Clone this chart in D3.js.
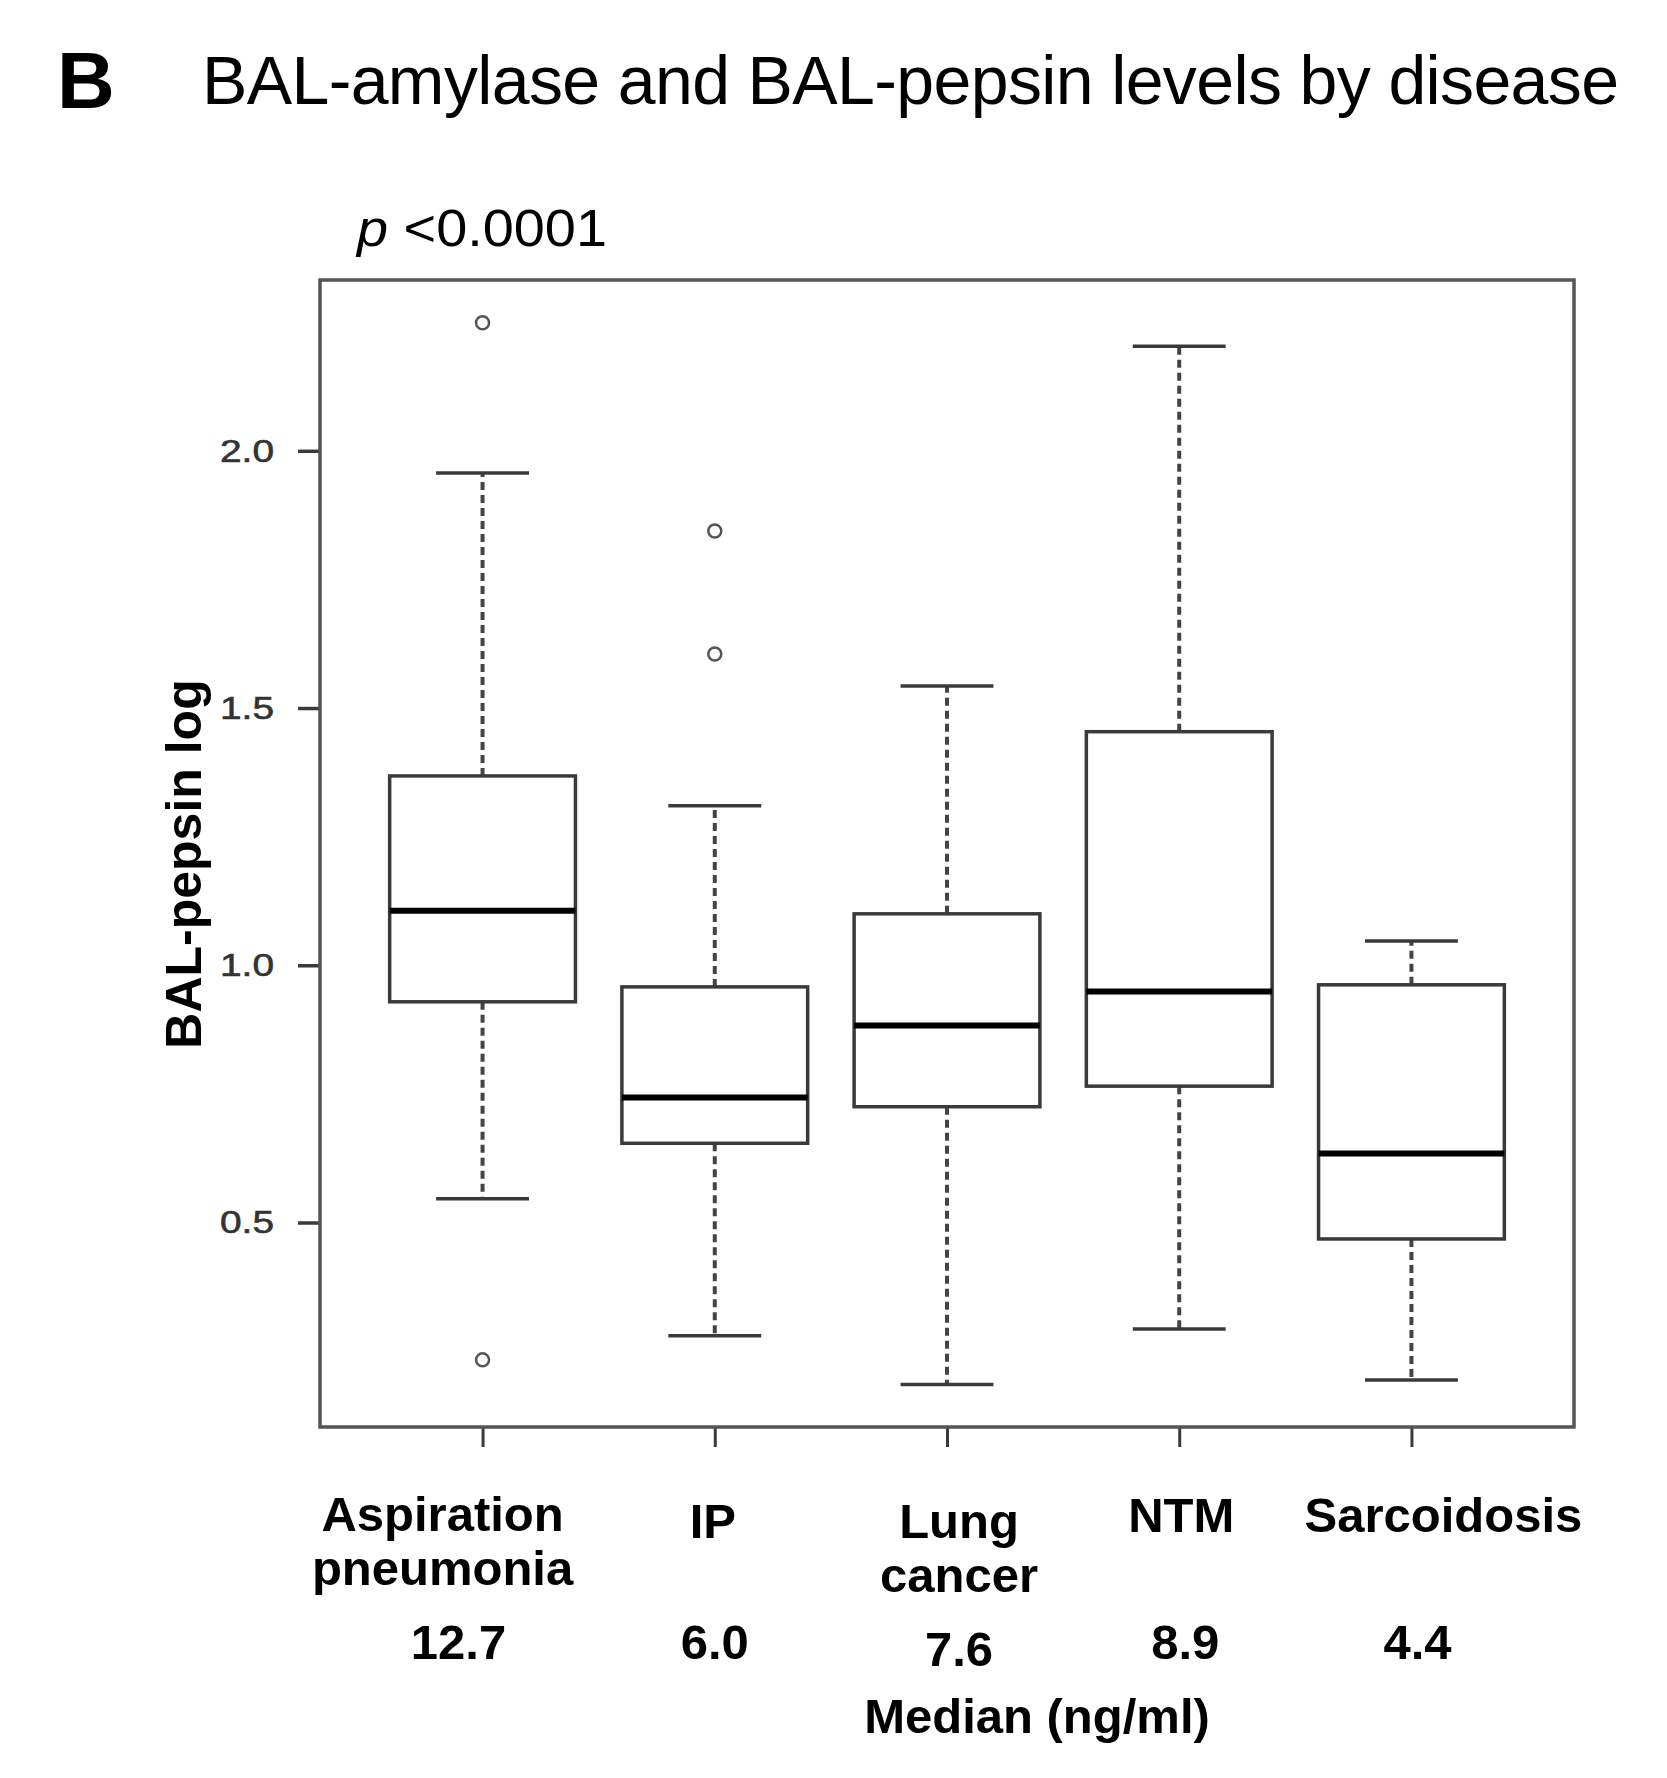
<!DOCTYPE html>
<html><head><meta charset="utf-8">
<script src="https://cdn.jsdelivr.net/npm/d3@7"></script>
<style>body{margin:0;background:#fff;} svg{display:block;font-family:"Liberation Sans",Arial,sans-serif;}</style>
</head><body>
<script>
// ---- data ----
const categories = ["Aspiration pneumonia", "IP", "Lung cancer", "NTM", "Sarcoidosis"];
const labelLines = [["Aspiration","pneumonia"],["IP"],["Lung","cancer"],["NTM"],["Sarcoidosis"]];
const medianLabels = ["12.7", "6.0", "7.6", "8.9", "4.4"];
const whiskerLow  = [0.546, 0.280, 0.185, 0.293, 0.194];
const q1          = [0.929, 0.654, 0.725, 0.765, 0.468];
const median      = [1.106, 0.743, 0.883, 0.949, 0.634];
const q3          = [1.368, 0.958, 1.100, 1.454, 0.962];
const whiskerHigh = [1.957, 1.310, 1.543, 2.203, 1.047];
const outliers    = [[2.249, 0.233], [1.844, 1.605], [], [], []];
const yTicks = [0.5, 1.0, 1.5, 2.0];

// ---- layout (not data) ----
const W = 1667, H = 1778;
const plot = {left: 320, right: 1574, top: 280, bottom: 1427};
const labelDx = [-40, -2, 12, 2, 32];
const medianDx = [-24, 0, 12, 6, 6];

const svg = d3.select("body").append("svg").attr("width", W).attr("height", H);

const x = d3.scaleLinear().domain([0.3, 5.7]).range([plot.left, plot.right]);
const y = d3.scaleLinear().domain([0.1025, 2.332]).range([plot.bottom, plot.top]);

const lineCol = "#3a3a3a";

// title
svg.append("text").attr("x", 57).attr("y", 108).attr("font-size", 80).attr("font-weight", "bold").text("B");
svg.append("text").attr("x", 202).attr("y", 104).attr("font-size", 68)
  .attr("textLength", 1417).attr("lengthAdjust", "spacing")
  .text("BAL-amylase  and  BAL-pepsin  levels  by  disease");

// p-value
const pt = svg.append("text").attr("x", 357).attr("y", 246).attr("font-size", 52)
  .attr("textLength", 250).attr("lengthAdjust", "spacingAndGlyphs");
pt.append("tspan").attr("font-style", "italic").text("p");
pt.append("tspan").text(" <0.0001");

// y axis
const yAxis = d3.axisLeft(y).tickValues(yTicks).tickFormat(d3.format(".1f")).tickSize(22).tickPadding(24);
const ga = svg.append("g").attr("transform", `translate(${plot.left},0)`).call(yAxis);
ga.select(".domain").remove();
ga.selectAll(".tick line").attr("stroke", lineCol).attr("stroke-width", 3.5);
ga.selectAll(".tick text").attr("font-size", 32).attr("fill", "#333")
  .attr("stroke", "#333").attr("stroke-width", 0.6)
  .attr("font-family", "Liberation Sans, Arial, sans-serif")
  .attr("textLength", 54).attr("lengthAdjust", "spacingAndGlyphs");

// x axis ticks
const xAxis = d3.axisBottom(x).tickValues(d3.range(1, 6)).tickFormat("").tickSize(20);
const gx = svg.append("g").attr("transform", `translate(0,${plot.bottom})`).call(xAxis);
gx.select(".domain").remove();
gx.selectAll(".tick line").attr("stroke", lineCol).attr("stroke-width", 3);

// y label
svg.append("text").attr("transform", `translate(201,864) rotate(-90)`)
  .attr("text-anchor", "middle").attr("font-size", 50).attr("font-weight", "bold").text("BAL-pepsin log");

// boxes
const boxHalf = 0.4, capHalf = 0.2;
const g = svg.append("g");
categories.forEach((c, i) => {
  const cx = x(i + 1);
  const gb = g.append("g");
  // whiskers
  gb.append("line").attr("x1", cx).attr("x2", cx).attr("y1", y(q3[i])).attr("y2", y(whiskerHigh[i]))
    .attr("stroke", "#444").attr("stroke-width", 4).attr("stroke-dasharray", "8,5");
  gb.append("line").attr("x1", cx).attr("x2", cx).attr("y1", y(q1[i])).attr("y2", y(whiskerLow[i]))
    .attr("stroke", "#444").attr("stroke-width", 4).attr("stroke-dasharray", "8,5");
  [whiskerHigh[i], whiskerLow[i]].forEach(v => {
    gb.append("line").attr("x1", x(i + 1 - capHalf)).attr("x2", x(i + 1 + capHalf)).attr("y1", y(v)).attr("y2", y(v))
      .attr("stroke", lineCol).attr("stroke-width", 3.5);
  });
  gb.append("rect").attr("x", x(i + 1 - boxHalf)).attr("width", x(i + 1 + boxHalf) - x(i + 1 - boxHalf))
    .attr("y", y(q3[i])).attr("height", y(q1[i]) - y(q3[i]))
    .attr("fill", "#fff").attr("stroke", lineCol).attr("stroke-width", 3.5);
  gb.append("line").attr("x1", x(i + 1 - boxHalf)).attr("x2", x(i + 1 + boxHalf)).attr("y1", y(median[i])).attr("y2", y(median[i]))
    .attr("stroke", "#000").attr("stroke-width", 6);
  outliers[i].forEach(v => {
    gb.append("circle").attr("cx", cx).attr("cy", y(v)).attr("r", 6.5)
      .attr("fill", "none").attr("stroke", "#555").attr("stroke-width", 2.5);
  });
});

// frame
svg.append("rect").attr("x", plot.left).attr("y", plot.top).attr("width", plot.right - plot.left).attr("height", plot.bottom - plot.top)
  .attr("fill", "none").attr("stroke", "#555").attr("stroke-width", 3.5);

// category labels
const lineBase = [1531, 1538, 1538, 1532, 1532];
labelLines.forEach((lines, i) => {
  const t = svg.append("text").attr("text-anchor", "middle").attr("font-size", 49).attr("font-weight", "bold");
  lines.forEach((l, j) => {
    t.append("tspan").attr("x", x(i + 1) + labelDx[i]).attr("y", lineBase[i] + j * 54).text(l);
  });
});
medianLabels.forEach((m, i) => {
  svg.append("text").attr("text-anchor", "middle").attr("font-size", 49).attr("font-weight", "bold")
    .attr("x", x(i + 1) + medianDx[i]).attr("y", i === 2 ? 1666 : 1659).text(m);
});
svg.append("text").attr("text-anchor", "middle").attr("font-size", 49).attr("font-weight", "bold")
  .attr("x", 1037).attr("y", 1733).text("Median (ng/ml)");
</script>
</body></html>
